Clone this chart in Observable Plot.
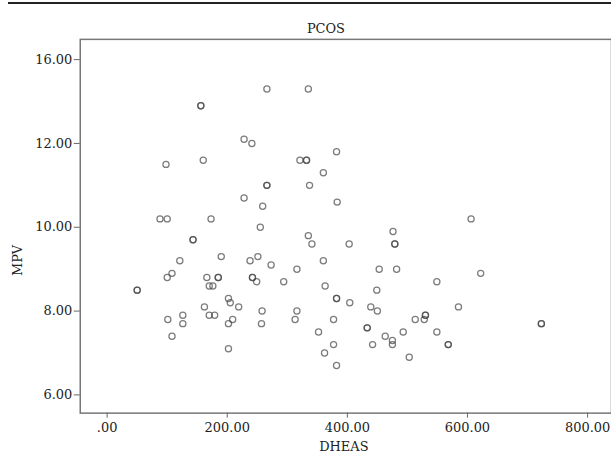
<!DOCTYPE html>
<html><head><meta charset="utf-8">
<script src="https://cdn.jsdelivr.net/npm/d3@7"></script>
<script src="https://cdn.jsdelivr.net/npm/@observablehq/plot@0.6"></script>
<style>
body{margin:0;background:#fff;}
#wrap{position:relative;width:611px;height:456px;overflow:hidden;}
#rule{position:absolute;left:8px;right:0;top:2px;height:2px;background:#222;}
#chart{position:absolute;left:0;top:0;}
</style></head>
<body>
<div id="wrap"><div id="chart"></div><div id="rule"></div></div>
<script>
const dheas = [156,156,228,241,98,160,228,88,100,173,143,143,121,190,238,108,100,166,185,185,170,176,242,242,50,50,202,205,219,162,101,126,126,170,179,209,202,108,202,
266,335,382,321,332,332,360,266,266,337,259,383,255,476,335,341,403,479,479,251,273,360,316,453,482,249,294,363,449,382,382,404,439,450,258,316,257,313,377,530,530,528,513,352,433,433,493,463,475,475,377,442,362,503,382,
606,622,549,585,549,568,568,723,723];
const mpv = [12.9,12.9,12.1,12.0,11.5,11.6,10.7,10.2,10.2,10.2,9.7,9.7,9.2,9.3,9.2,8.9,8.8,8.8,8.8,8.8,8.6,8.6,8.8,8.8,8.5,8.5,8.3,8.2,8.1,8.1,7.8,7.9,7.7,7.9,7.9,7.8,7.7,7.4,7.1,
13.3,13.3,11.8,11.6,11.6,11.6,11.3,11.0,11.0,11.0,10.5,10.6,10.0,9.9,9.8,9.6,9.6,9.6,9.6,9.3,9.1,9.2,9.0,9.0,9.0,8.7,8.7,8.6,8.5,8.3,8.3,8.2,8.1,8.0,8.0,8.0,7.7,7.8,7.8,7.9,7.9,7.8,7.8,7.5,7.6,7.6,7.5,7.4,7.3,7.2,7.2,7.2,7.0,6.9,6.7,
10.2,8.9,8.7,8.1,7.5,7.2,7.2,7.7,7.7];
const xTickValues = [0,200,400,600,800];
const xTickLabels = [".00","200.00","400.00","600.00","800.00"];
const yTickValues = [6,8,10,12,14];
const yTickLabels = ["6.00","8.00","10.00","12.00","16.00"];
const title = "PCOS";
const xLabel = "DHEAS";
const yLabel = "MPV";

const data = dheas.map((d,i)=>({dheas:d, mpv:mpv[i]}));

const chart = Plot.plot({
  width: 613, height: 456,
  marginLeft: 80, marginRight: 0, marginTop: 39, marginBottom: 42,
  style: {fontFamily: "'DejaVu Serif', serif", fontSize: "13px", color: "#222", background: "#fff"},
  x: {domain: [-44.8, 839.8], label: null},
  y: {domain: [5.565, 14.483], label: null},
  marks: [
    Plot.frame({stroke: "#777", strokeWidth: 1.5}),
    Plot.axisX({ticks: xTickValues, tickFormat: d => xTickLabels[xTickValues.indexOf(d)], tickSize: 5, tickPadding: 5, stroke: "#666", fill: "#222", fontSize: 13, label: null}),
    Plot.axisY({ticks: yTickValues, tickFormat: d => yTickLabels[yTickValues.indexOf(d)], tickSize: 6, tickPadding: 2, stroke: "#666", fill: "#222", fontSize: 13, label: null}),
    Plot.dot(data, {x: "dheas", y: "mpv", r: 3.1, fill: "none", stroke: "#444", strokeOpacity: 0.7, strokeWidth: 1.25}),
    Plot.text([title], {frameAnchor: "top", dx: -20, dy: -16, text: d => d, fontSize: 13, fill: "#222"}),
    Plot.text([xLabel], {frameAnchor: "bottom", lineAnchor: "middle", dx: -2, dy: 34, text: d => d, fontSize: 13, fill: "#222"}),
    Plot.text([yLabel], {frameAnchor: "left", dx: -63, dy: 50, rotate: -90, text: d => d, fontSize: 13, fill: "#222"})
  ]
});
document.getElementById("chart").appendChild(chart);
</script>
</body></html>
